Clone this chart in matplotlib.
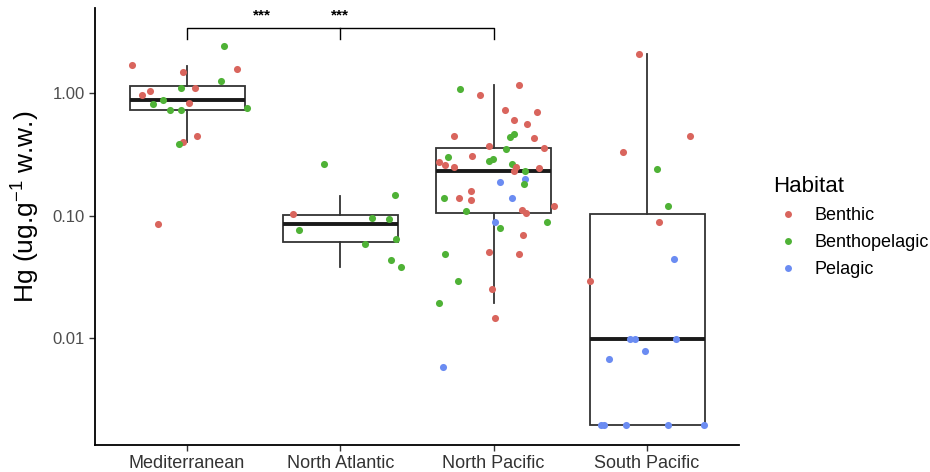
import matplotlib
matplotlib.use("Agg")
import matplotlib.pyplot as plt
from matplotlib.lines import Line2D
import numpy as np

plt.rcParams['font.family'] = ['Liberation Sans', 'DejaVu Sans']
plt.rcParams['mathtext.fontset'] = 'custom'
plt.rcParams['mathtext.rm'] = 'Liberation Sans'
plt.rcParams['mathtext.it'] = 'Liberation Sans'
plt.rcParams['mathtext.bf'] = 'Liberation Sans:bold'

categories = ["Mediterranean", "North Atlantic", "North Pacific", "South Pacific"]
habitats = ["Benthic", "Benthopelagic", "Pelagic"]
colors = {"Benthic": "#D9655D", "Benthopelagic": "#4FB236", "Pelagic": "#6B8CF2"}

# box statistics per region: whisker low, q1, median, q3, whisker high
box_lo = [0.397, 0.0384, 0.0195, 0.00195]
box_q1 = [0.726, 0.0609, 0.1052, 0.00195]
box_med = [0.871, 0.086, 0.2307, 0.0098]
box_q3 = [1.135, 0.1006, 0.352, 0.1038]
box_hi = [1.655, 0.144, 1.163, 2.05]

# points per region: habitat code (R=Benthic, G=Benthopelagic, P=Pelagic), Hg value, jitter
med_hab = list("RGRRGGRRRGGRGGGRRGR")
med_val = [1.674, 2.414, 1.467, 1.552, 1.238, 1.093, 1.093, 1.025, 0.957, 0.871,
           0.802, 0.828, 0.726, 0.726, 0.744, 0.447, 0.399, 0.384, 0.0849]
med_jit = [-0.357, 0.241, -0.026, 0.328, 0.224, -0.037, 0.050, -0.243, -0.295, -0.154,
           -0.220, 0.011, -0.109, -0.039, 0.391, 0.067, -0.024, -0.054, -0.187]

na_hab = list("GGRGGGGGGG")
na_val = [0.262, 0.1466, 0.1033, 0.0957, 0.0945, 0.0768, 0.0644, 0.059, 0.0433, 0.0384]
na_jit = [-0.106, 0.359, -0.311, 0.207, 0.319, -0.267, 0.363, 0.161, 0.328, 0.398]

np_hab = list("RGRRRRRRGGRRGRGRGGRRRGRRGRPGPRGRRPGRRRPGGRRGRGRGRP")
np_val = [1.163, 1.064, 0.963, 0.730, 0.703, 0.601, 0.557, 0.447, 0.433, 0.459,
          0.425, 0.366, 0.348, 0.352, 0.297, 0.306, 0.279, 0.288, 0.272, 0.2585,
          0.247, 0.2604, 0.2489, 0.2296, 0.2307, 0.2427, 0.1973, 0.1806, 0.1889, 0.1594,
          0.1396, 0.1396, 0.1335, 0.1396, 0.1093, 0.1192, 0.1099, 0.1052, 0.0888, 0.0888,
          0.0793, 0.0695, 0.0507, 0.0488, 0.0488, 0.0293, 0.0252, 0.0195, 0.0146, 0.00582]
np_jit = [0.163, -0.218, -0.089, 0.074, 0.284, 0.130, 0.215, -0.261, 0.106, 0.134,
          0.265, -0.033, 0.082, 0.330, -0.300, -0.140, -0.031, -0.005, -0.359, -0.319,
          -0.261, 0.119, 0.145, 0.132, 0.206, 0.297, 0.202, 0.196, 0.043, -0.146,
          -0.326, -0.226, -0.148, 0.119, -0.181, 0.393, 0.183, 0.213, 0.008, 0.347,
          0.041, 0.191, -0.031, -0.317, 0.167, -0.233, -0.013, -0.359, 0.008, -0.332]

sp_hab = list("RRRGGRPRPPPPPPPPPP")
sp_val = [2.049, 0.447, 0.3266, 0.2383, 0.1192, 0.0888, 0.0442, 0.0293, 0.0098, 0.0098,
          0.0098, 0.00782, 0.00682, 0.00195, 0.00195, 0.00195, 0.00195, 0.00195]
sp_jit = [-0.050, 0.278, -0.158, 0.063, 0.137, 0.081, 0.176, -0.373, -0.111, -0.080,
          0.189, -0.015, -0.248, -0.298, -0.278, -0.134, 0.135, 0.372]

code_map = {"R": "Benthic", "G": "Benthopelagic", "P": "Pelagic"}

fig = plt.figure(figsize=(9.3, 4.72), dpi=100)
ax = fig.add_axes([95/930, 1-445/472, (739-95)/930, (445-8)/472])

stats = []
for i in range(4):
    stats.append(dict(whislo=box_lo[i], q1=box_q1[i], med=box_med[i], q3=box_q3[i],
                      whishi=box_hi[i], fliers=[]))
ax.bxp(stats, positions=np.arange(1, 5), widths=0.75, showcaps=False, showfliers=False,
       patch_artist=True,
       boxprops=dict(facecolor="white", edgecolor="#333333", linewidth=1.3),
       whiskerprops=dict(color="#333333", linewidth=1.3),
       medianprops=dict(color="#1a1a1a", linewidth=2.8), zorder=1)

groups = [(med_hab, med_val, med_jit), (na_hab, na_val, na_jit),
          (np_hab, np_val, np_jit), (sp_hab, sp_val, sp_jit)]
for gi, (hab, val, jit) in enumerate(groups):
    for h, v, j in zip(hab, val, jit):
        ax.scatter(gi + 1 + j, v, s=26, color=colors[code_map[h]], linewidths=0, zorder=3)

ax.set_yscale("log")
ax.set_ylim(10**-2.869, 10**0.69)
ax.set_xlim(0.4, 4.6)
ax.set_yticks([0.01, 0.1, 1.0])
ax.set_yticklabels(["0.01", "0.10", "1.00"])
ax.yaxis.set_minor_locator(matplotlib.ticker.NullLocator())
ax.set_xticks(np.arange(1, 5))
ax.set_xticklabels(categories)
ax.tick_params(axis="both", colors="#333333", length=4, width=1)
ax.tick_params(axis="x", labelsize=13, labelcolor="#333333")
ax.tick_params(axis="y", labelcolor="#4D4D4D", labelsize=12)
for side in ["top", "right"]:
    ax.spines[side].set_visible(False)
for side in ["left", "bottom"]:
    ax.spines[side].set_linewidth(1.3)
    ax.spines[side].set_color("black")
ax.set_ylabel("Hg (ug.g$^{-1}$ w.w.)", fontsize=19)
ax.yaxis.set_label_coords(-(95 - 42) / 644, (445 - 207) / 437)

# significance bracket
by = 10**((92.7 - 28) / 122.8)
bt = 10**((92.7 - 39) / 122.8)
ax.plot([1, 1, 3, 3], [bt, by, by, bt], color="black", lw=1.0, clip_on=False, zorder=4)
ax.plot([2, 2], [by, bt], color="black", lw=1.0, clip_on=False, zorder=4)
sy = 10**((92.7 - 15) / 122.8)
ax.text(1.49, sy, "***", ha="center", va="center", fontsize=11, fontweight="bold", clip_on=False)
ax.text(2.0, sy, "***", ha="center", va="center", fontsize=11, fontweight="bold", clip_on=False)

handles = [Line2D([0], [0], marker="o", linestyle="", markersize=5,
                  markerfacecolor=colors[h], markeredgewidth=0, label=h) for h in habitats]
leg = fig.legend(handles=handles, title="Habitat", loc="upper left",
                 bbox_to_anchor=(757/930, 1-160/472), frameon=False,
                 fontsize=13, title_fontsize=16, handletextpad=0.7, labelspacing=0.55,
                 handlelength=1.6)
leg._legend_box.align = "left"

fig.savefig("out.png", dpi=100)
